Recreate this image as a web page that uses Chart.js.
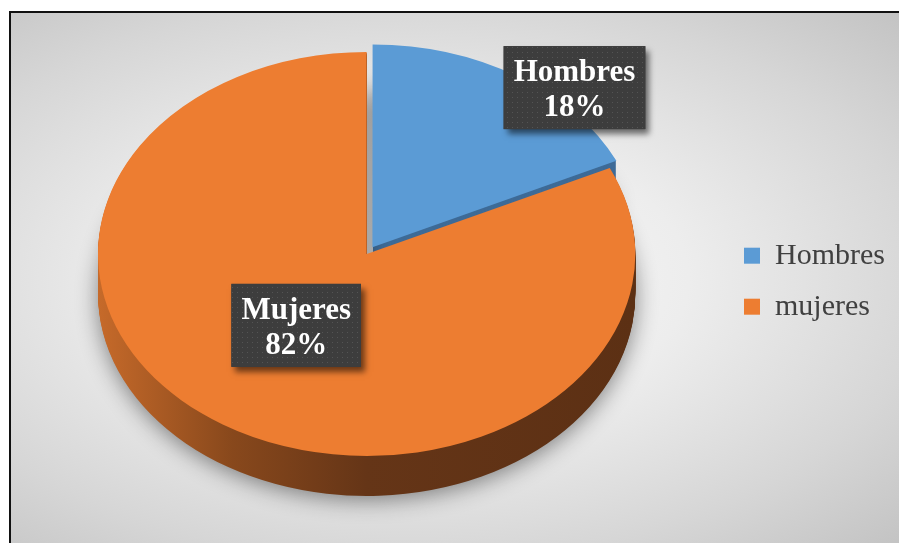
<!DOCTYPE html>
<html>
<head>
<meta charset="utf-8">
<script src="https://cdn.jsdelivr.net/npm/chart.js@4.4.1/dist/chart.umd.min.js"></script>
<style>
  html, body { margin: 0; padding: 0; background: #fff; }
  #frame {
    position: absolute; left: 9px; top: 11px; width: 890px; height: 532px;
    border-left: 2px solid #111; border-top: 2px solid #111;
    background: radial-gradient(ellipse at 45% 50%, #fbfbfb 0%, #ededed 40%, #d6d6d6 75%, #c3c3c3 100%);
  }
  #wrap { position: absolute; left: 0; top: 0; width: 899px; height: 543px; }
</style>
</head>
<body>
<div id="frame"></div>
<div id="wrap"><canvas id="chart" width="899" height="543"></canvas></div>
<script>
const labels = ['Hombres', 'mujeres'];
const boxNames = ['Hombres', 'Mujeres'];
const values = [18, 82];
const colors = ['#5b9bd5', '#ed7d31'];
const offsets = [30, 0];

// look of the tilted disc
const ASPECT = 1.33;
const DEPTH = 40;
const labelRadius = [1.13, 0.44];
const labelTurn = [10.8, 4.2];

const ctxEl = document.getElementById('chart');

function discTransform(chart) {
  const area = chart.chartArea;
  const el = chart.getDatasetMeta(0).data[0];
  const ry = (area.bottom - area.top) / 2;
  const sy = ry / el.outerRadius;
  return {
    x0: el.x, y0: el.y,
    sx: sy * ASPECT, sy: sy,
    cx: area.left + ry * ASPECT,
    cy: (area.top + area.bottom) / 2,
    rx: ry * ASPECT, ry: ry
  };
}

function applyDisc(ctx, t) {
  ctx.translate(t.cx, t.cy);
  ctx.scale(t.sx, t.sy);
  ctx.translate(-t.x0, -t.y0);
}

// same shift ArcElement.draw uses for 'offset'
function arcShift(el) {
  const off = (el.options.offset || 0) / 4;
  const mid = (el.startAngle + el.endAngle) / 2;
  const fix = 1 - Math.sin(Math.min(Math.PI, el.circumference || 0));
  const d = off + off * fix;
  return { dx: Math.cos(mid) * d, dy: Math.sin(mid) * d };
}

function wallFill(ctx, i, t) {
  if (i === 0) return '#3e6b97';
  const g = ctx.createLinearGradient(t.cx - t.rx, 0, t.cx + t.rx, 0);
  g.addColorStop(0, '#c66a2a');
  g.addColorStop(0.25, '#88481c');
  g.addColorStop(0.5, '#653517');
  g.addColorStop(1, '#5c3014');
  return g;
}

function dotPattern(ctx) {
  const c = document.createElement('canvas');
  c.width = 5; c.height = 5;
  const p = c.getContext('2d');
  p.fillStyle = '#3d3d3d';
  p.fillRect(0, 0, 5, 5);
  p.fillStyle = '#545454';
  p.fillRect(2, 2, 1, 1);
  return ctx.createPattern(c, 'repeat');
}

const disc3d = {
  id: 'disc3d',
  beforeDatasetsDraw(chart) {
    const ctx = chart.ctx;
    const t = discTransform(chart);
    const meta = chart.getDatasetMeta(0);

    meta.data.forEach((el, i) => {
      const s = arcShift(el);
      for (let d = DEPTH; d >= 1; d--) {
        ctx.save();
        ctx.translate(0, d);
        applyDisc(ctx, t);
        ctx.beginPath();
        ctx.moveTo(el.x + s.dx, el.y + s.dy);
        ctx.arc(el.x + s.dx, el.y + s.dy, el.outerRadius, el.startAngle, el.endAngle);
        ctx.closePath();
        ctx.restore();
        ctx.save();
        if (d === DEPTH) {
          ctx.shadowColor = 'rgba(0,0,0,0.45)';
          ctx.shadowBlur = 22;
          ctx.shadowOffsetY = 4;
        }
        ctx.fillStyle = wallFill(ctx, i, t);
        ctx.fill();
        ctx.restore();
      }
    });

    ctx.save();
    applyDisc(ctx, t);
  },
  afterDatasetsDraw(chart) {
    const ctx = chart.ctx;
    ctx.restore();

    const t = discTransform(chart);
    const meta = chart.getDatasetMeta(0);
    const total = values.reduce((a, b) => a + b, 0);
    const pattern = dotPattern(ctx);

    meta.data.forEach((el, i) => {
      const mid = (el.startAngle + el.endAngle) / 2 + labelTurn[i] * Math.PI / 180;
      const ax = t.cx + Math.cos(mid) * labelRadius[i] * t.rx;
      const ay = t.cy + Math.sin(mid) * labelRadius[i] * t.ry;
      const lines = [boxNames[i], Math.round(values[i] / total * 100) + '%'];

      ctx.save();
      ctx.font = 'bold 31px "Liberation Serif", "Times New Roman", serif';
      const w = Math.max(...lines.map(l => ctx.measureText(l).width)) + 20;
      const h = 83;
      const x = ax - w / 2;
      const y = ay - h / 2;

      ctx.shadowColor = 'rgba(0,0,0,0.55)';
      ctx.shadowBlur = 6;
      ctx.shadowOffsetX = 4;
      ctx.shadowOffsetY = 5;
      ctx.fillStyle = '#3d3d3d';
      ctx.fillRect(x, y, w, h);
      ctx.shadowColor = 'transparent';
      ctx.fillStyle = pattern;
      ctx.fillRect(x, y, w, h);

      ctx.fillStyle = '#ffffff';
      ctx.textAlign = 'center';
      ctx.textBaseline = 'alphabetic';
      ctx.fillText(lines[0], ax, y + 35);
      ctx.fillText(lines[1], ax, y + 70);
      ctx.restore();
    });
  }
};

new Chart(ctxEl, {
  type: 'pie',
  data: {
    labels: labels,
    datasets: [{
      data: values,
      backgroundColor: colors,
      borderWidth: 0,
      offset: offsets,
      hoverOffset: 0,
      clip: false
    }]
  },
  options: {
    responsive: false,
    animation: false,
    events: [],
    layout: { padding: { left: 98, top: 52, bottom: 87, right: 4 } },
    plugins: {
      tooltip: { enabled: false },
      legend: {
        position: 'right',
        title: { display: true, text: '', padding: { top: 20, bottom: 20 } },
        labels: {
          boxWidth: 16,
          boxHeight: 16,
          padding: 21,
          color: '#404040',
          font: { family: '"Liberation Serif", "Times New Roman", serif', size: 30 }
        }
      }
    }
  },
  plugins: [disc3d]
});
</script>
</body>
</html>
